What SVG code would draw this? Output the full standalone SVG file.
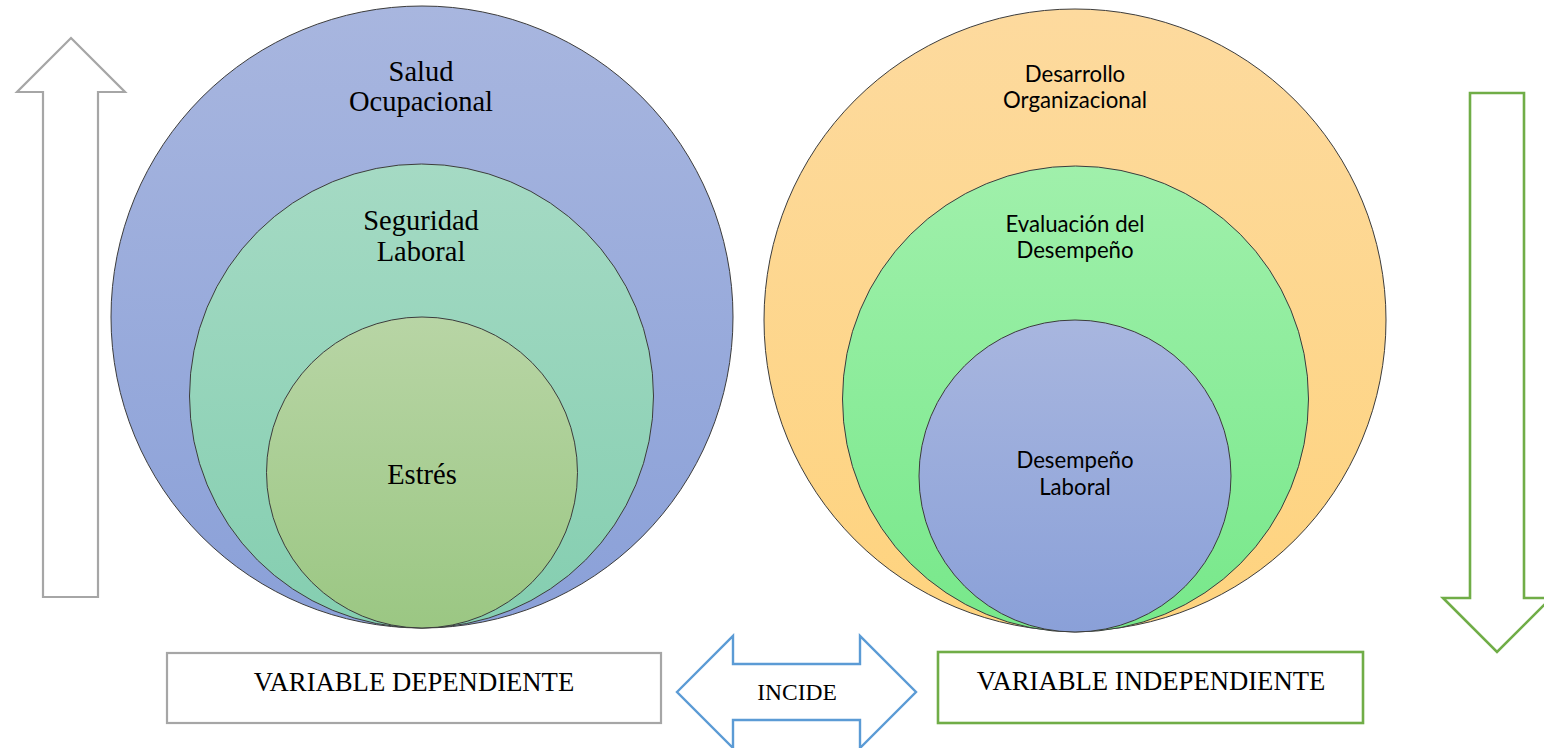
<svg xmlns="http://www.w3.org/2000/svg" width="1544" height="748" viewBox="0 0 1544 748">
  <defs>
    <linearGradient id="gBlue" x1="0" y1="0" x2="0" y2="1">
      <stop offset="0" stop-color="#a8b6df"/>
      <stop offset="1" stop-color="#8aa0d8"/>
    </linearGradient>
    <linearGradient id="gTeal" x1="0" y1="0" x2="0" y2="1">
      <stop offset="0" stop-color="#a5dac4"/>
      <stop offset="1" stop-color="#84ceb0"/>
    </linearGradient>
    <linearGradient id="gOlive" x1="0" y1="0" x2="0" y2="1">
      <stop offset="0" stop-color="#b8d5a5"/>
      <stop offset="1" stop-color="#9bc783"/>
    </linearGradient>
    <linearGradient id="gOrange" x1="0" y1="0" x2="0" y2="1">
      <stop offset="0" stop-color="#fdda9e"/>
      <stop offset="1" stop-color="#fed37e"/>
    </linearGradient>
    <linearGradient id="gGreen" x1="0" y1="0" x2="0" y2="1">
      <stop offset="0" stop-color="#a0f0ab"/>
      <stop offset="1" stop-color="#77e88a"/>
    </linearGradient>
  </defs>
  <style>
    .ring { stroke: #3c3c3c; stroke-width: 1; }
    .serif { font-family: "Liberation Serif", "Times New Roman", serif; fill: #000; text-anchor: middle; }
    .sans { font-family: Lato, "Open Sans", sans-serif; fill: #000; text-anchor: middle; font-size: 22.2px; }
    .big { font-size: 28.5px; }
    .label { font-size: 26.7px; }
    .gray { fill: #fff; stroke: #a6a6a6; stroke-width: 2.2; }
    .green { fill: #fff; stroke: #70ad47; stroke-width: 2.6; }
    .blue { fill: #fff; stroke: #5b9bd5; stroke-width: 2.4; }
  </style>

  <!-- dependent variable: nested circles -->
  <g id="salud-ocupacional">
    <circle class="ring" cx="422" cy="317" r="311" fill="url(#gBlue)"/>
    <text class="serif big" x="421" y="81">Salud</text>
    <text class="serif big" x="421" y="111">Ocupacional</text>
  </g>
  <g id="seguridad-laboral">
    <circle class="ring" cx="421.5" cy="396" r="232" fill="url(#gTeal)"/>
    <text class="serif big" x="421" y="230">Seguridad</text>
    <text class="serif big" x="421" y="261">Laboral</text>
  </g>
  <g id="estres">
    <circle class="ring" cx="422" cy="472.5" r="155.5" fill="url(#gOlive)"/>
    <text class="serif big" x="422" y="484">Estrés</text>
  </g>

  <!-- independent variable: nested circles -->
  <g id="desarrollo-organizacional">
    <circle class="ring" cx="1075" cy="320" r="311" fill="url(#gOrange)"/>
    <text class="sans" x="1075" y="82">Desarrollo</text>
    <text class="sans" x="1075" y="108">Organizacional</text>
  </g>
  <g id="evaluacion-desempeno">
    <circle class="ring" cx="1075.5" cy="399" r="233" fill="url(#gGreen)"/>
    <text class="sans" x="1075" y="232">Evaluación del</text>
    <text class="sans" x="1075" y="258">Desempeño</text>
  </g>
  <g id="desempeno-laboral">
    <circle class="ring" cx="1075" cy="476" r="156" fill="url(#gBlue)"/>
    <text class="sans" x="1075" y="468">Desempeño</text>
    <text class="sans" x="1075" y="495">Laboral</text>
  </g>

  <!-- labels -->
  <g id="variable-dependiente">
    <rect class="gray" x="167" y="653" width="494" height="70"/>
    <text class="serif label" x="414" y="691">VARIABLE DEPENDIENTE</text>
  </g>
  <g id="variable-independiente">
    <rect class="green" x="938" y="652" width="425" height="71"/>
    <text class="serif label" x="1151" y="690">VARIABLE INDEPENDIENTE</text>
  </g>

  <!-- arrows -->
  <g id="connectors">
    <polygon id="arrow-up" class="gray" points="71,38 125,92 98,92 98,597 43,597 43,92 17,92"/>
    <polygon id="arrow-down" class="green" points="1470,93 1524,93 1524,598 1551,598 1497,652 1443,598 1470,598"/>
    <g id="incide">
      <polygon class="blue" points="677,692 733,636 733,664 860,664 860,636 916,692 860,748 860,720 733,720 733,748"/>
      <text class="serif" x="797" y="700" font-size="23.5px">INCIDE</text>
    </g>
  </g>
</svg>
